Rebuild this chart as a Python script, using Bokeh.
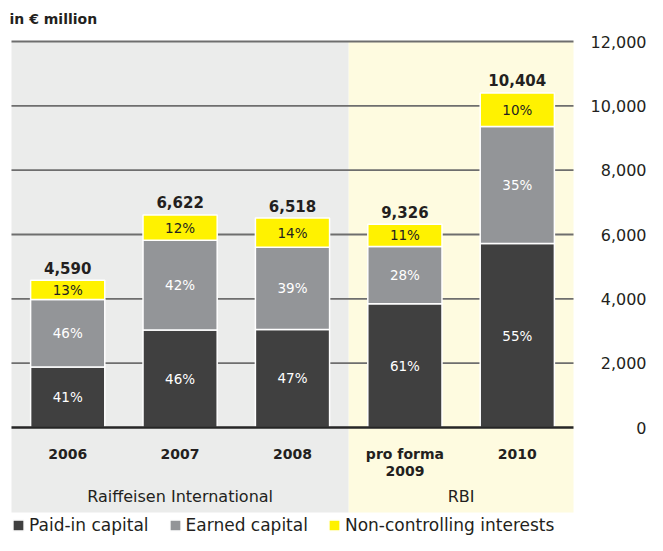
from bokeh.plotting import figure
from bokeh.models import Range1d, ColumnDataSource, Legend, LegendItem
from bokeh.core.properties import value
from bokeh.embed import file_html
from bokeh.resources import INLINE

# ---------------- data (EUR million) ----------------
categories = ["2006", "2007", "2008", "pro forma\n2009", "2010"]
groups = ["Raiffeisen International", "Raiffeisen International", "Raiffeisen International", "RBI", "RBI"]
paid_in = [1880, 3030, 3050, 3850, 5720]
earned = [2100, 2790, 2550, 1780, 3640]
nci = [600, 790, 910, 690, 1040]
paid_in_pct = ["41%", "46%", "47%", "61%", "55%"]
earned_pct = ["46%", "42%", "39%", "28%", "35%"]
nci_pct = ["13%", "12%", "14%", "11%", "10%"]
total_labels = ["4,590", "6,622", "6,518", "9,326", "10,404"]
series_names = ["Paid-in capital", "Earned capital", "Non-controlling interests"]
y_ticks = [0, 2000, 4000, 6000, 8000, 10000, 12000]
y_tick_labels = ["0", "2,000", "4,000", "6,000", "8,000", "10,000", "12,000"]
unit_title = "in € million"

# ---------------- styling ----------------
colors = ["#404040", "#939598", "#FFF200"]
label_colors = ["#ffffff", "#ffffff", "#231f20"]
group_bg = {"Raiffeisen International": "#EBECEB", "RBI": "#FEFBE0"}
FONT = value("DejaVu Sans")
TXT = "#231f20"

W, H = 647, 535
px_per_cat = 112.4
x0_px = 11.0               # canvas x of category 0 left edge
k = 386.0 / 12000.0        # px per unit
zero_px = 427.0            # canvas y of value 0

x_start = -x0_px / px_per_cat
x_end = x_start + W / px_per_cat
y_end = zero_px / k
y_start = -(H - zero_px) / k

p = figure(width=W, height=H, output_backend="svg", toolbar_location=None,
           x_range=Range1d(x_start, x_end), y_range=Range1d(y_start, y_end),
           x_axis_location=None, y_axis_location=None, min_border=0,
           outline_line_color=None, background_fill_color="white",
           border_fill_color="white", title=None)
p.grid.visible = False

n = len(categories)
xs = [i + 0.5 for i in range(n)]

# group backgrounds
uniq = []
for g in groups:
    if g not in uniq:
        uniq.append(g)
bg_left, bg_right, bg_col, g_center = [], [], [], []
for g in uniq:
    idx = [i for i, gg in enumerate(groups) if gg == g]
    bg_left.append(idx[0])
    bg_right.append(idx[-1] + 1)
    bg_col.append(group_bg[g])
    g_center.append((idx[0] + idx[-1] + 1) / 2)
bg_bottom = -85 / k
p.quad(left=bg_left, right=bg_right, bottom=bg_bottom, top=y_ticks[-1],
       fill_color=bg_col, line_color=None)

# grid lines
grid_vals = y_ticks[1:]
p.segment(x0=[0] * len(grid_vals), x1=[n] * len(grid_vals), y0=grid_vals, y1=grid_vals,
          line_color="#6e6e6e", line_width=1.8)

# stacked bars
src = ColumnDataSource(dict(x=xs, paid=paid_in, earned=earned, nci=nci))
rs = p.vbar_stack(["paid", "earned", "nci"], x="x", width=0.66, source=src,
                  fill_color=colors, line_color="white", line_width=1.5)

# zero line
p.segment(x0=[0], x1=[n], y0=[0], y1=[0], line_color="#262626", line_width=2.6)

# segment labels
bottoms = [0] * n
for vals, labs, col in zip([paid_in, earned, nci], [paid_in_pct, earned_pct, nci_pct], label_colors):
    mids = [b + v / 2 for b, v in zip(bottoms, vals)]
    p.text(x=xs, y=mids, text=labs, text_font=FONT, text_font_size="13.5px",
           text_color=col, text_align="center", text_baseline="middle")
    bottoms = [b + v for b, v in zip(bottoms, vals)]

# totals
p.text(x=xs, y=[b + 12.5 / k for b in bottoms], text=total_labels, text_font=FONT,
       text_font_size="15px", text_font_style="bold", text_color=TXT,
       text_align="center", text_baseline="middle")

# category labels (each line drawn separately so first lines align)
cl_x, cl_y, cl_t = [], [], []
for xi, cat in zip(xs, categories):
    for j, line in enumerate(cat.split("\n")):
        cl_x.append(xi)
        cl_y.append((-26 - 17 * j) / k)
        cl_t.append(line)
p.text(x=cl_x, y=cl_y, text=cl_t, text_font=FONT, text_font_size="14px",
       text_font_style="bold", text_color=TXT, text_align="center", text_baseline="middle")

# group labels
p.text(x=g_center, y=[-69 / k] * len(g_center), text=uniq, text_font=FONT,
       text_font_size="16px", text_color=TXT, text_align="center", text_baseline="middle")

# y tick labels (right side, right aligned)
p.text(x=[(646 - x0_px) / px_per_cat] * len(y_ticks), y=y_ticks, text=y_tick_labels,
       text_font=FONT, text_font_size="16px", text_color=TXT,
       text_align="right", text_baseline="middle")

# unit title
p.text(x=[(9 - x0_px) / px_per_cat], y=[(zero_px - 18) / k], text=[unit_title],
       text_font=FONT, text_font_size="14px", text_font_style="bold", text_color=TXT,
       text_align="left", text_baseline="middle")

legend = Legend(items=[LegendItem(label=nm, renderers=[r]) for nm, r in zip(series_names, rs)],
                orientation="horizontal", location=(11, 0), padding=0, margin=0,
                spacing=19, glyph_width=14, glyph_height=14, label_standoff=4,
                label_height=16, label_text_font="DejaVu Sans", label_text_font_size="17px",
                label_text_color=TXT, border_line_color=None, background_fill_alpha=0)
p.add_layout(legend)

open("out.html", "w").write(file_html(p, INLINE))
